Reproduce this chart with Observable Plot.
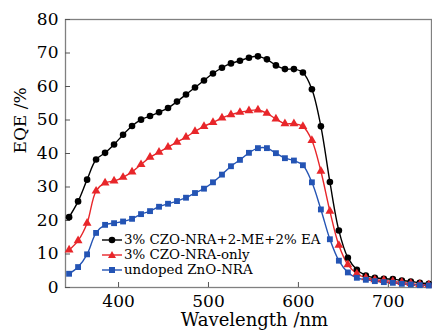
<!DOCTYPE html>
<html><head><meta charset="utf-8">
<script src="https://cdn.jsdelivr.net/npm/d3@7"></script>
<script src="https://cdn.jsdelivr.net/npm/@observablehq/plot@0.6"></script>
<style>
body{margin:0;background:#fff;}
#wrap{position:relative;width:432px;height:333px;}
#legend{position:absolute;left:101px;top:232px;font-family:"DejaVu Serif";font-size:13.4px;line-height:15px;color:#000;}
#legend div{display:flex;align-items:center;height:15px;white-space:nowrap;}
#legend svg{margin-right:1px;}
</style></head><body><div id="wrap"><div id="legend"></div></div>
<script>
const wavelength = [345,355,365,375,385,395,405,415,425,435,445,455,465,475,485,495,505,515,525,535,545,555,565,575,585,595,605,615,625,635,645,655,665,675,685,695,705,715,725,735,745];
const eqeEA = [21.0,25.7,32.2,38.2,40.2,42.7,45.6,48.2,50.1,51.2,52.3,53.6,55.5,57.6,59.7,61.8,63.9,65.6,66.9,67.7,68.6,69.0,68.1,66.3,65.2,65.2,64.2,59.2,48.1,31.5,17.0,8.9,5.3,3.6,2.9,2.6,2.5,2.1,1.8,1.4,1.1];
const eqeOnly = [11.2,14.0,19.2,28.8,31.2,31.8,32.9,34.5,36.7,38.9,40.4,41.9,43.4,44.9,46.6,48.1,49.3,50.6,51.6,52.3,52.8,53.0,52.0,50.3,48.9,48.9,48.1,43.9,34.7,22.8,12.6,6.8,4.1,2.9,2.3,2.1,1.8,1.5,1.2,0.9,0.8];
const eqeUndoped = [4.1,6.1,9.9,16.3,18.7,19.2,19.7,20.5,21.9,22.8,24.1,25.0,25.8,26.8,28.2,29.5,31.4,33.7,36.2,38.1,40.2,41.6,41.6,40.1,38.6,37.9,36.5,31.4,23.3,14.4,8.0,4.5,2.9,2.3,1.9,1.6,1.4,1.1,0.9,0.7,0.6];
const seriesNames = ["3% CZO-NRA+2-ME+2% EA","3% CZO-NRA-only","undoped ZnO-NRA"];
const seriesColors = ["#000000","#e8262a","#2454b4"];
const seriesSymbols = ["circle","triangle","square"];
const xTicks = [400,500,600,700];
const yTicks = [0,10,20,30,40,50,60,70,80];

const seriesValues = [eqeEA, eqeOnly, eqeUndoped];
const rows = [];
seriesNames.forEach((name, s) => {
  wavelength.forEach((w, i) => rows.push({series: name, wavelength: w, eqe: seriesValues[s][i]}));
});

const chart = Plot.plot({
  width: 432, height: 333,
  marginTop: 19, marginBottom: 46, marginLeft: 65, marginRight: 1,
  style: {fontFamily: "DejaVu Serif", fontSize: "17px", background: "#fff", color: "#000"},
  x: {domain: [341, 748]},
  y: {domain: [0, 80]},
  color: {domain: seriesNames, range: seriesColors},
  symbol: {domain: seriesNames, range: seriesSymbols},
  marks: [
    Plot.frame({stroke: "#808080", strokeWidth: 1.3}),
    Plot.axisX({ticks: xTicks, tickSize: -5, tickPadding: 12, stroke: "#555", label: null, fontSize: 17}),
    Plot.axisY({ticks: yTicks, tickSize: -5, tickPadding: 12, stroke: "#555", label: null, fontSize: 17}),
    Plot.line(rows, {x: "wavelength", y: "eqe", z: "series", stroke: "series", curve: "catmull-rom", strokeWidth: 1.4}),
    Plot.dot(rows, {x: "wavelength", y: "eqe", fill: "series", symbol: "series", r: 3.3, stroke: "none"}),
    Plot.text(["Wavelength /nm"], {frameAnchor: "bottom", dx: 6, dy: 33, fontSize: 18, lineAnchor: "middle"}),
    Plot.text(["EQE /%"], {frameAnchor: "left", dx: -45, rotate: -90, fontSize: 17, lineAnchor: "middle"})
  ]
});
document.getElementById("wrap").prepend(chart);

const legend = document.getElementById("legend");
const symPaths = {
  circle: '<circle cx="11" cy="7" r="3.3"/>',
  triangle: '<path d="M11,3 L15,10 L7,10 Z"/>',
  square: '<rect x="8" y="4" width="6" height="6"/>'
};
seriesNames.forEach((name, i) => {
  const row = document.createElement("div");
  row.innerHTML = `<svg width="22" height="14"><line x1="1" x2="21" y1="7" y2="7" stroke="${seriesColors[i]}" stroke-width="1.4"/><g fill="${seriesColors[i]}">${symPaths[seriesSymbols[i]]}</g></svg><span>${name}</span>`;
  legend.appendChild(row);
});
</script>
</body></html>
